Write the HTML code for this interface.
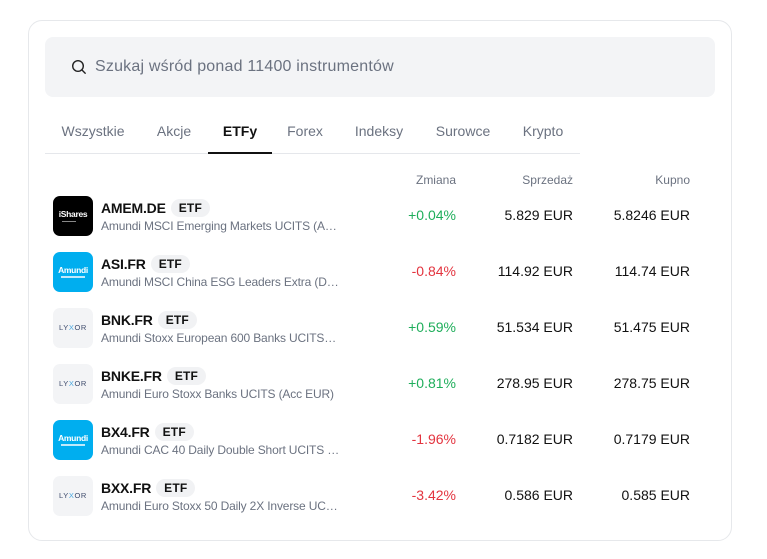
<!DOCTYPE html>
<html><head><meta charset="utf-8">
<style>
*{margin:0;padding:0;box-sizing:border-box}
html,body{width:767px;height:559px;background:#fff;overflow:hidden;font-family:"Liberation Sans",Arial,sans-serif}
.card{position:absolute;left:28px;top:20px;width:704px;height:521px;border:1px solid #e6e8eb;border-radius:14px;background:#fff}
.search{position:absolute;left:45px;top:37px;width:670px;height:60px;background:#f3f4f6;border-radius:8px}
.search .txt{position:absolute;left:50px;top:20px;font-size:16px;color:#6b7280;line-height:20px;white-space:nowrap;letter-spacing:0.2px}
.tab{position:absolute;top:122px;font-size:14px;color:#6b7280;line-height:18px;white-space:nowrap;transform:translateX(-50%)}
.tab.act{color:#111;font-weight:bold}
.sep{position:absolute;left:45px;top:153px;width:535px;height:1px;background:#e5e7eb}
.ul{position:absolute;left:208px;top:152px;width:64px;height:2px;background:#111}
.hd{position:absolute;top:172px;font-size:12px;color:#6b7280;line-height:16px;text-align:right}
.logo{position:absolute;left:53px;width:40px;height:40px;border-radius:7px;overflow:hidden}
.ish{background:#000}
.amu{background:#00aeef}
.lyx{background:#f3f4f6}
.logo span{position:absolute;left:0;right:0;text-align:center;white-space:nowrap}
.tk{position:absolute;left:101px;font-size:14px;font-weight:bold;color:#111;line-height:18px;white-space:nowrap;letter-spacing:-0.2px}
.badge{display:inline-block;margin-left:5px;background:#f1f2f4;border-radius:10px;font-size:12px;font-weight:bold;padding:0 8px;height:18px;line-height:18px;vertical-align:top;color:#111;letter-spacing:0.2px}
.sub{position:absolute;left:101px;font-size:12px;color:#6b7280;line-height:14px;white-space:nowrap;letter-spacing:-0.15px}
.num{position:absolute;font-size:14px;line-height:18px;color:#111;text-align:right;white-space:nowrap}
.g{color:#1fae5b}.r{color:#e3343f}
</style></head><body>
<div class="card"></div>
<div class="search">
<svg style="position:absolute;left:26px;top:22px" width="16" height="16" viewBox="0 0 16 16"><circle cx="7" cy="7" r="5.3" fill="none" stroke="#222" stroke-width="1.4"/><line x1="11" y1="11" x2="14.2" y2="14.2" stroke="#222" stroke-width="1.4" stroke-linecap="round"/></svg>
<div class="txt">Szukaj wśród ponad 11400 instrumentów</div>
</div>
<div class="tab" style="left:93px">Wszystkie</div>
<div class="tab" style="left:174px">Akcje</div>
<div class="tab act" style="left:240px">ETFy</div>
<div class="tab" style="left:305px">Forex</div>
<div class="tab" style="left:379px">Indeksy</div>
<div class="tab" style="left:463px">Surowce</div>
<div class="tab" style="left:543px">Krypto</div>
<div class="sep"></div>
<div class="ul"></div>

<div class="hd" style="right:311px">Zmiana</div>
<div class="hd" style="right:194px">Sprzedaż</div>
<div class="hd" style="right:77px">Kupno</div>

<!-- row 1 -->
<div class="logo ish" style="top:196px"><span style="top:13px;font-size:8.5px;font-weight:bold;color:#fff;letter-spacing:-0.3px">iShares</span><span style="top:25px;left:9px;right:auto;width:14px;height:1px;background:#888"></span></div>
<div class="tk" style="top:199px">AMEM.DE<span class="badge">ETF</span></div>
<div class="sub" style="top:219px">Amundi MSCI Emerging Markets UCITS (A…</div>
<div class="num g" style="top:206px;right:311px">+0.04%</div>
<div class="num" style="top:206px;right:194px">5.829 EUR</div>
<div class="num" style="top:206px;right:77px">5.8246 EUR</div>

<!-- row 2 -->
<div class="logo amu" style="top:252px"><span style="top:13px;font-size:8.5px;font-weight:bold;color:#fff;letter-spacing:-0.3px">Amundi</span><span style="top:24px;left:8px;right:auto;width:24px;height:2px;background:#bfe9fb"></span></div>
<div class="tk" style="top:255px">ASI.FR<span class="badge">ETF</span></div>
<div class="sub" style="top:275px">Amundi MSCI China ESG Leaders Extra (D…</div>
<div class="num r" style="top:262px;right:311px">-0.84%</div>
<div class="num" style="top:262px;right:194px">114.92 EUR</div>
<div class="num" style="top:262px;right:77px">114.74 EUR</div>

<!-- row 3 -->
<div class="logo lyx" style="top:308px"><span style="top:15px;font-size:7.5px;color:#3d4a6b;letter-spacing:0.6px">LY<b style="color:#4aa8e0;font-weight:normal">X</b>OR</span></div>
<div class="tk" style="top:311px">BNK.FR<span class="badge">ETF</span></div>
<div class="sub" style="top:331px">Amundi Stoxx European 600 Banks UCITS…</div>
<div class="num g" style="top:318px;right:311px">+0.59%</div>
<div class="num" style="top:318px;right:194px">51.534 EUR</div>
<div class="num" style="top:318px;right:77px">51.475 EUR</div>

<!-- row 4 -->
<div class="logo lyx" style="top:364px"><span style="top:15px;font-size:7.5px;color:#3d4a6b;letter-spacing:0.6px">LY<b style="color:#4aa8e0;font-weight:normal">X</b>OR</span></div>
<div class="tk" style="top:367px">BNKE.FR<span class="badge">ETF</span></div>
<div class="sub" style="top:387px">Amundi Euro Stoxx Banks UCITS (Acc EUR)</div>
<div class="num g" style="top:374px;right:311px">+0.81%</div>
<div class="num" style="top:374px;right:194px">278.95 EUR</div>
<div class="num" style="top:374px;right:77px">278.75 EUR</div>

<!-- row 5 -->
<div class="logo amu" style="top:420px"><span style="top:13px;font-size:8.5px;font-weight:bold;color:#fff;letter-spacing:-0.3px">Amundi</span><span style="top:24px;left:8px;right:auto;width:24px;height:2px;background:#bfe9fb"></span></div>
<div class="tk" style="top:423px">BX4.FR<span class="badge">ETF</span></div>
<div class="sub" style="top:443px">Amundi CAC 40 Daily Double Short UCITS …</div>
<div class="num r" style="top:430px;right:311px">-1.96%</div>
<div class="num" style="top:430px;right:194px">0.7182 EUR</div>
<div class="num" style="top:430px;right:77px">0.7179 EUR</div>

<!-- row 6 -->
<div class="logo lyx" style="top:476px"><span style="top:15px;font-size:7.5px;color:#3d4a6b;letter-spacing:0.6px">LY<b style="color:#4aa8e0;font-weight:normal">X</b>OR</span></div>
<div class="tk" style="top:479px">BXX.FR<span class="badge">ETF</span></div>
<div class="sub" style="top:499px">Amundi Euro Stoxx 50 Daily 2X Inverse UC…</div>
<div class="num r" style="top:486px;right:311px">-3.42%</div>
<div class="num" style="top:486px;right:194px">0.586 EUR</div>
<div class="num" style="top:486px;right:77px">0.585 EUR</div>
</body></html>
